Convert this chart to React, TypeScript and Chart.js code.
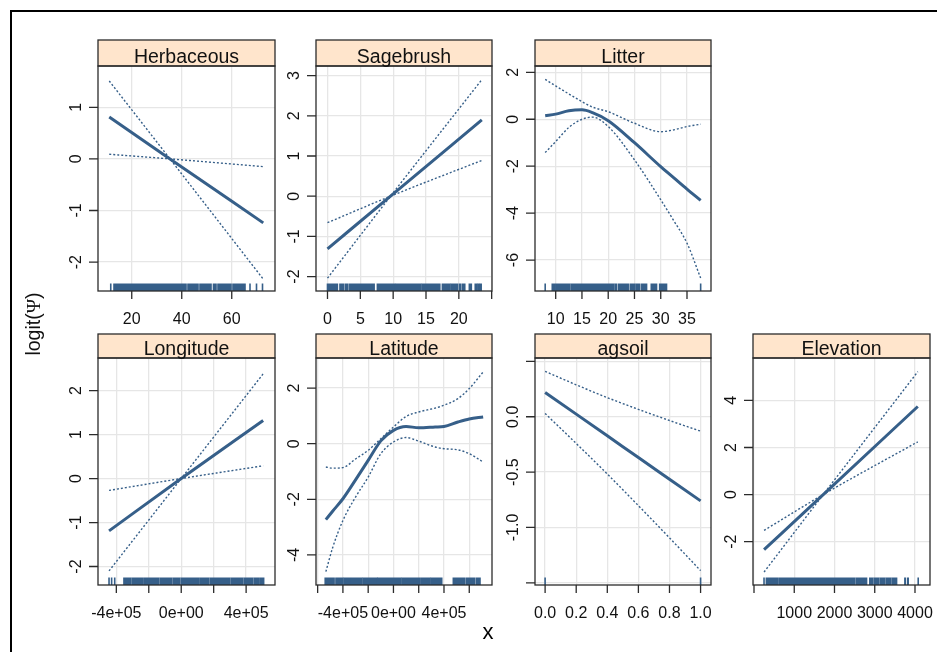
import React, { useEffect, useRef } from 'react';
import { Chart, registerables } from 'chart.js';

Chart.register(...registerables);

// ---------------- data ----------------
// Herbaceous
const herbX = [11, 35.3, 72.6];
const herbFit = [0.81, 0.0, -1.24];
const herbBandA = [1.51, 0.0, -2.33];
const herbBandB = [0.09, 0.0, -0.15];
const herbRug = [[11.6, 11.6], [12.9, 41.7], [42.5, 46.5], [47.3, 51.7], [52.7, 53.7], [54.5, 59.7], [60.5, 65.3], [67.3, 67.3], [69.9, 69.9], [72.3, 72.3]];
const herbXTicks = [20, 40, 60];
const herbXLabels = ['20', '40', '60'];
const herbYTicks = [1, 0, -1, -2];
const herbYLabels = ['1', '0', '-1', '-2'];

// Sagebrush
const sageX = [0, 9.6, 23.5];
const sageFit = [-1.31, 0.0, 1.9];
const sageBandA = [-2.04, 0.0, 2.9];
const sageBandB = [-0.66, 0.0, 0.89];
const sageRug = [[0, 1.5], [1.9, 2.4], [2.7, 3.1], [3.4, 7.1], [7.6, 10.2], [10.4, 14.2], [14.4, 17.1], [17.5, 18.6], [18.8, 19.8], [20.1, 20.3], [20.6, 20.9], [21.6, 21.9], [22.5, 22.7], [22.9, 23.1], [23.3, 23.4]];
const sageXTicks = [0, 5, 10, 15, 20, 25];
const sageXLabels = ['0', '5', '10', '15', '20', ''];
const sageYTicks = [3, 2, 1, 0, -1, -2];
const sageYLabels = ['3', '2', '1', '0', '-1', '-2'];

// Litter
const litX = [8, 10, 12.5, 15, 17, 20, 25, 30, 32.5, 35, 37.6];
const litFit = [0.15, 0.22, 0.36, 0.4, 0.28, -0.06, -1.0, -2.02, -2.5, -2.98, -3.46];
const litUpper = [1.7, 1.42, 1.08, 0.75, 0.52, 0.32, -0.17, -0.53, -0.45, -0.31, -0.21];
const litLower = [-1.42, -0.95, -0.35, 0.0, 0.09, -0.31, -1.73, -3.43, -4.33, -5.28, -6.77];
const litRug = [[8, 8], [9.35, 9.9], [10.2, 12.7], [13, 21], [21.3, 21.6], [22, 23.8], [24.2, 25.1], [25.4, 26], [26.4, 27.3], [28.2, 29.2], [29.8, 31.1], [37.6, 37.6]];
const litXTicks = [10, 15, 20, 25, 30, 35];
const litXLabels = ['10', '15', '20', '25', '30', '35'];
const litYTicks = [2, 0, -2, -4, -6];
const litYLabels = ['2', '0', '-2', '-4', '-6'];

// Longitude
const lonX = [-445000, 0, 505000];
const lonFit = [-1.19, 0.0, 1.32];
const lonBandA = [-2.1, 0.0, 2.38];
const lonBandB = [-0.27, 0.0, 0.29];
const lonRug = [[-445000, -445000], [-429000, -429000], [-410000, -410000], [-353000, -310000], [-300000, -240000], [-230000, -140000], [-130000, -60000], [-50000, -10000], [0, 110000], [120000, 170000], [180000, 300000], [310000, 380000], [390000, 440000], [450000, 480000], [490000, 508000]];
const lonXTicks = [-400000, -200000, 0, 200000, 400000];
const lonXLabels = ['-4e+05', '', '0e+00', '', '4e+05'];
const lonYTicks = [2, 1, 0, -1, -2];
const lonYLabels = ['2', '1', '0', '-1', '-2'];

// Latitude
const latX = [-535000, -480000, -400000, -300000, -200000, -100000, 0, 100000, 200000, 330000, 400000, 510000, 600000, 710000];
const latFit = [-2.73, -2.42, -1.98, -1.3, -0.6, 0.1, 0.48, 0.62, 0.57, 0.6, 0.62, 0.78, 0.89, 0.96];
const latUpper = [-0.84, -0.88, -0.86, -0.55, -0.24, 0.18, 0.6, 0.98, 1.14, 1.28, 1.38, 1.62, 1.98, 2.58];
const latLower = [-4.6, -3.72, -2.76, -1.92, -1.2, -0.36, 0.06, 0.22, 0.09, -0.12, -0.18, -0.22, -0.36, -0.66];
const latRug = [[-540000, -470000], [-455000, -400000], [-390000, -342000], [-330000, -250000], [-240000, -132000], [-124000, 60000], [70000, 211000], [224000, 290000], [300000, 382000], [474000, 560000], [575000, 640000], [655000, 685000]];
const latXTicks = [-600000, -400000, -200000, 0, 200000, 400000, 600000];
const latXLabels = ['', '-4e+05', '', '0e+00', '', '4e+05', ''];
const latYTicks = [2, 0, -2, -4];
const latYLabels = ['2', '0', '-2', '-4'];

// agsoil
const agX = [0, 0.2, 0.4, 0.6, 0.8, 1.0];
const agFit = [0.22, 0.024, -0.172, -0.368, -0.564, -0.76];
const agUpper = [0.41, 0.289, 0.173, 0.067, -0.034, -0.13];
const agLower = [0.03, -0.241, -0.517, -0.803, -1.094, -1.39];
const agRug = [[0, 0], [1, 1]];
const agXTicks = [0, 0.2, 0.4, 0.6, 0.8, 1.0];
const agXLabels = ['0.0', '0.2', '0.4', '0.6', '0.8', '1.0'];
const agYTicks = [0.5, 0, -0.5, -1.0, -1.5];
const agYLabels = ['', '0.0', '-0.5', '-1.0', ''];

// Elevation
const elevX = [250, 1720, 4070];
const elevFit = [-2.34, 0.0, 3.74];
const elevBandA = [-3.29, 0.0, 5.22];
const elevBandB = [-1.52, 0.0, 2.24];
const elevRug = [[249, 249], [308, 597], [639, 2505], [2547, 2796], [2878, 2950], [2990, 3100], [3140, 3250], [3290, 3400], [3440, 3542], [3749, 3760], [3820, 3831], [4080, 4080]];
const elevXTicks = [0, 1000, 2000, 3000, 4000];
const elevXLabels = ['', '1000', '2000', '3000', '4000'];
const elevYTicks = [4, 2, 0, -2];
const elevYLabels = ['4', '2', '0', '-2'];

// ---------------- style / layout ----------------
const LINE = '#365F89';
const STRIP_BG = '#FFE5CC';
const FRAME = '#2b2b2b';
const GRID = '#e6e6e6';
const FONT = '"Liberation Sans", Arial, Helvetica, sans-serif';
const TICK_FONT = 16;
const STRIP_FONT = 19.5;
const TICK_LEN = 8;
const RUG_LEN = 7.5;

const COLS = [
  { l: 98, r: 275 },
  { l: 316, r: 492 },
  { l: 535, r: 711 },
  { l: 753, r: 930 },
];
const ROWS = [
  { stripTop: 40, top: 66, bottom: 291 },
  { stripTop: 334, top: 358, bottom: 585 },
];
const PAD_L = 70;
const PAD_R = 30;
const PAD_T = 6;
const PAD_B = 45;

type Panel = {
  title: string;
  col: number;
  row: number;
  xMin: number; xMax: number; yMin: number; yMax: number;
  x: number[]; fit: number[]; bandA: number[]; bandB: number[];
  rug: number[][];
  xTicks: number[]; xLabels: string[]; yTicks: number[]; yLabels: string[];
};

const PANELS: Panel[] = [
  { title: 'Herbaceous', col: 0, row: 0, xMin: 6.5, xMax: 77.3, yMin: -2.56, yMax: 1.8,
    x: herbX, fit: herbFit, bandA: herbBandA, bandB: herbBandB, rug: herbRug,
    xTicks: herbXTicks, xLabels: herbXLabels, yTicks: herbYTicks, yLabels: herbYLabels },
  { title: 'Sagebrush', col: 1, row: 0, xMin: -1.75, xMax: 25.05, yMin: -2.36, yMax: 3.24,
    x: sageX, fit: sageFit, bandA: sageBandA, bandB: sageBandB, rug: sageRug,
    xTicks: sageXTicks, xLabels: sageXLabels, yTicks: sageYTicks, yLabels: sageYLabels },
  { title: 'Litter', col: 2, row: 0, xMin: 6.06, xMax: 39.57, yMin: -7.32, yMax: 2.27,
    x: litX, fit: litFit, bandA: litUpper, bandB: litLower, rug: litRug,
    xTicks: litXTicks, xLabels: litXLabels, yTicks: litYTicks, yLabels: litYLabels },
  { title: 'Longitude', col: 0, row: 1, xMin: -513000, xMax: 578000, yMin: -2.42, yMax: 2.74,
    x: lonX, fit: lonFit, bandA: lonBandA, bandB: lonBandB, rug: lonRug,
    xTicks: lonXTicks, xLabels: lonXLabels, yTicks: lonYTicks, yLabels: lonYLabels },
  { title: 'Latitude', col: 1, row: 1, xMin: -613000, xMax: 780000, yMin: -5.08, yMax: 3.08,
    x: latX, fit: latFit, bandA: latUpper, bandB: latLower, rug: latRug,
    xTicks: latXTicks, xLabels: latXLabels, yTicks: latYTicks, yLabels: latYLabels },
  { title: 'agsoil', col: 2, row: 1, xMin: -0.065, xMax: 1.067, yMin: -1.52, yMax: 0.531,
    x: agX, fit: agFit, bandA: agUpper, bandB: agLower, rug: agRug,
    xTicks: agXTicks, xLabels: agXLabels, yTicks: agYTicks, yLabels: agYLabels },
  { title: 'Elevation', col: 3, row: 1, xMin: -25, xMax: 4373, yMin: -3.84, yMax: 5.8,
    x: elevX, fit: elevFit, bandA: elevBandA, bandB: elevBandB, rug: elevRug,
    xTicks: elevXTicks, xLabels: elevXLabels, yTicks: elevYTicks, yLabels: elevYLabels },
];

function decorPlugin(p: Panel, stripH: number) {
  return {
    id: 'latticeDecor',
    afterDatasetsDraw(chart: any) {
      const { ctx, chartArea: a, scales } = chart;
      const xs = scales.x;
      ctx.save();
      ctx.fillStyle = LINE;
      for (const [from, to] of p.rug) {
        const x0 = xs.getPixelForValue(from);
        const x1 = xs.getPixelForValue(to);
        ctx.fillRect(x0 - 0.8, a.bottom - RUG_LEN, Math.max(x1 - x0, 0) + 1.6, RUG_LEN);
      }
      ctx.restore();
    },
    afterDraw(chart: any) {
      const { ctx, chartArea: a, scales } = chart;
      const xs = scales.x;
      const ys = scales.y;
      const w = a.right - a.left;
      ctx.save();
      // strip
      ctx.fillStyle = STRIP_BG;
      ctx.fillRect(a.left, a.top - stripH, w, stripH);
      ctx.strokeStyle = FRAME;
      ctx.lineWidth = 1.3;
      ctx.strokeRect(a.left, a.top - stripH, w, stripH);
      ctx.strokeRect(a.left, a.top, w, a.bottom - a.top);
      ctx.fillStyle = '#111';
      ctx.font = `${STRIP_FONT}px ${FONT}`;
      ctx.textAlign = 'center';
      ctx.textBaseline = 'alphabetic';
      ctx.fillText(p.title, (a.left + a.right) / 2, a.top - 3.5);
      // tick marks
      ctx.beginPath();
      p.xTicks.forEach((v) => {
        const px = xs.getPixelForValue(v);
        ctx.moveTo(px, a.bottom);
        ctx.lineTo(px, a.bottom + TICK_LEN);
      });
      p.yTicks.forEach((v) => {
        const py = ys.getPixelForValue(v);
        ctx.moveTo(a.left - TICK_LEN - 1, py);
        ctx.lineTo(a.left, py);
      });
      ctx.stroke();
      // tick labels
      ctx.fillStyle = '#111';
      ctx.font = `${TICK_FONT}px ${FONT}`;
      const cap = TICK_FONT * 0.716;
      p.xTicks.forEach((v, i) => {
        const lab = p.xLabels[i];
        if (!lab) return;
        ctx.fillText(lab, xs.getPixelForValue(v), a.bottom + 27.5 + cap / 2);
      });
      p.yTicks.forEach((v, i) => {
        const lab = p.yLabels[i];
        if (!lab) return;
        const py = ys.getPixelForValue(v);
        ctx.save();
        ctx.translate(a.left - 23 + cap / 2, py);
        ctx.rotate(-Math.PI / 2);
        ctx.fillText(lab, 0, 0);
        ctx.restore();
      });
      ctx.restore();
    },
  };
}

function PanelChart({ p }: { p: Panel }) {
  const ref = useRef<HTMLCanvasElement>(null);
  const col = COLS[p.col];
  const row = ROWS[p.row];
  const stripH = row.top - row.stripTop;
  const w = col.r - col.l + PAD_L + PAD_R;
  const h = row.bottom - row.stripTop + PAD_T + PAD_B;

  useEffect(() => {
    if (!ref.current) return;
    const mk = (ys: number[]) => p.x.map((x, i) => ({ x, y: ys[i] }));
    const chart = new Chart(ref.current, {
      type: 'line',
      data: {
        datasets: [
          { data: mk(p.bandA), borderColor: LINE, borderWidth: 1.4, borderDash: [2, 2], pointRadius: 0, fill: false, cubicInterpolationMode: 'monotone' },
          { data: mk(p.bandB), borderColor: LINE, borderWidth: 1.4, borderDash: [2, 2], pointRadius: 0, fill: false, cubicInterpolationMode: 'monotone' },
          { data: mk(p.fit), borderColor: LINE, borderWidth: 3, pointRadius: 0, fill: false, cubicInterpolationMode: 'monotone' },
        ],
      } as any,
      options: {
        responsive: false,
        animation: false,
        events: [],
        layout: { padding: { left: PAD_L, right: PAD_R, top: PAD_T + stripH, bottom: PAD_B } },
        plugins: { legend: { display: false }, tooltip: { enabled: false }, title: { display: false } },
        scales: {
          x: {
            type: 'linear',
            min: p.xMin,
            max: p.xMax,
            afterBuildTicks: (s: any) => { s.ticks = p.xTicks.map((v) => ({ value: v })); },
            afterFit: (s: any) => { s.height = 0; },
            ticks: { display: false },
            grid: { color: GRID, lineWidth: 1.3, drawTicks: false },
            border: { display: false },
          },
          y: {
            type: 'linear',
            min: p.yMin,
            max: p.yMax,
            afterBuildTicks: (s: any) => { s.ticks = p.yTicks.map((v) => ({ value: v })); },
            afterFit: (s: any) => { s.width = 0; },
            ticks: { display: false },
            grid: { color: GRID, lineWidth: 1.3, drawTicks: false },
            border: { display: false },
          },
        },
      } as any,
      plugins: [decorPlugin(p, stripH)],
    });
    return () => chart.destroy();
  }, []);

  return (
    <canvas
      ref={ref}
      width={w}
      height={h}
      style={{ position: 'absolute', left: col.l - PAD_L, top: row.stripTop - PAD_T, width: w, height: h }}
    />
  );
}

export default function App() {
  return (
    <div style={{ position: 'absolute', left: 0, top: 0, width: 937, height: 652, overflow: 'hidden', background: '#fff' }}>
      <div style={{ position: 'absolute', left: 10, top: 10, width: 1000, height: 1000, borderLeft: '2px solid #000', borderTop: '2px solid #000' }} />
      {PANELS.map((p) => (
        <PanelChart key={p.title} p={p} />
      ))}
      <div
        style={{
          position: 'absolute', left: 458, top: 621, width: 60, textAlign: 'center',
          fontFamily: FONT, fontSize: 22, lineHeight: '21px', color: '#000',
        }}
      >
        x
      </div>
      <div
        style={{
          position: 'absolute', left: 33 - 60, top: 324 - 10, width: 120, height: 20, textAlign: 'center',
          fontFamily: FONT, fontSize: 19.5, lineHeight: '20px', color: '#111', transform: 'rotate(-90deg)', whiteSpace: 'nowrap',
        }}
      >
        logit(<span style={{ fontFamily: '"Liberation Serif", "DejaVu Serif", serif' }}>Ψ</span>)
      </div>
    </div>
  );
}
